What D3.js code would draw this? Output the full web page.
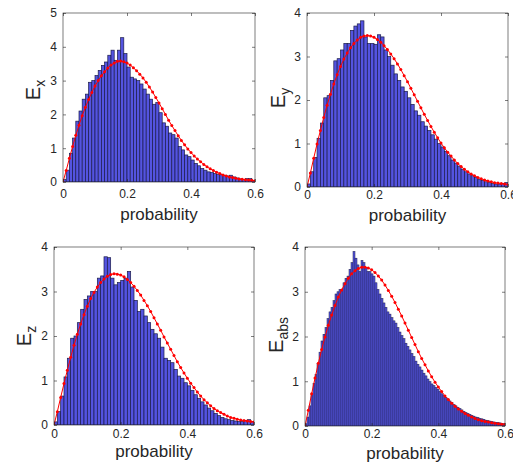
<!DOCTYPE html>
<html>
<head>
<meta charset="utf-8">
<script src="https://cdn.jsdelivr.net/npm/d3@7"></script>
<style>
  body { margin: 0; background: #fff; }
  text { font-family: "Liberation Sans", Arial, Helvetica, sans-serif; fill: #262626; }
</style>
</head>
<body>
<div id="div_graph"></div>
<script>
// histogram bar heights (density)
var exBins = [0.07,0.35,0.85,1.3,1.8,2.1,2.45,2.6,2.95,3.0,
  3.15,3.3,3.45,3.55,3.75,3.9,3.6,3.9,4.27,3.8,
  3.4,3.1,3.05,3.0,2.9,2.75,2.6,2.45,2.3,2.35,
  2.05,1.75,1.65,1.45,1.4,1.3,1.05,0.95,0.8,0.75,
  0.65,0.55,0.48,0.4,0.35,0.3,0.28,0.25,0.22,0.22,
  0.2,0.18,0.2,0.15,0.12,0.09,0.07,0.1,0.1,0.05];
var eyBins = [0.07,0.35,0.68,1.12,1.47,2.05,2.1,2.45,2.9,2.95,
  3.15,3.3,3.3,3.6,3.7,3.75,3.82,3.45,3.3,3.3,
  3.28,3.5,3.45,3.15,3.0,2.8,2.6,2.45,2.3,2.2,
  2.05,1.9,1.75,1.65,1.5,1.4,1.3,1.2,1.1,1.0,
  0.92,0.82,0.72,0.62,0.55,0.48,0.41,0.35,0.3,0.26,
  0.22,0.18,0.15,0.12,0.1,0.08,0.07,0.07,0.08,0.1];
var ezBins = [0.07,0.3,0.65,1.08,1.5,1.95,2.0,2.3,2.6,2.82,
  2.9,3.0,3.0,3.3,3.35,3.78,3.76,3.3,3.15,3.2,
  3.25,3.3,3.45,3.1,2.8,2.55,2.6,2.45,2.3,2.15,
  2.05,1.95,1.75,1.5,1.45,1.4,1.25,1.1,1.05,0.95,
  0.88,0.78,0.68,0.6,0.52,0.45,0.38,0.32,0.26,0.21,
  0.17,0.14,0.12,0.1,0.09,0.08,0.08,0.1,0.12,0.08];
var eabsBins = [0.05,0.2,0.45,0.7,0.95,1.15,1.4,1.65,1.9,2.05,
  2.2,2.4,2.55,2.65,2.8,2.95,3.0,3.05,3.05,3.2,
  3.3,3.35,3.5,3.65,3.9,3.75,3.6,3.45,3.7,3.65,
  3.55,3.45,3.45,3.4,3.35,3.2,3.05,2.95,2.85,2.75,
  2.65,2.55,2.5,2.42,2.35,2.3,2.2,2.1,2.02,1.95,
  1.85,1.78,1.7,1.62,1.55,1.45,1.38,1.32,1.25,1.18,
  1.12,1.05,0.99,0.94,0.9,0.86,0.82,0.77,0.72,0.68,
  0.64,0.6,0.56,0.52,0.48,0.45,0.42,0.39,0.36,0.33,
  0.3,0.28,0.26,0.24,0.22,0.2,0.19,0.17,0.16,0.15,
  0.13,0.12,0.11,0.1,0.09,0.08,0.08,0.07,0.06,0.05];

// fitted curves, sampled every 0.01 from 0 to 0.6
var exFit = [0,0.34,0.7,1.05,1.38,1.68,1.96,2.21,2.44,2.65,2.84,3.0,3.14,3.26,3.37,3.46,3.52,3.57,3.58,3.56,
  3.52,3.46,3.38,3.29,3.19,3.08,2.95,2.81,2.66,2.5,2.34,2.17,2.0,1.83,1.67,1.52,1.37,1.23,1.1,0.98,
  0.87,0.77,0.68,0.6,0.52,0.45,0.39,0.34,0.29,0.25,0.21,0.18,0.15,0.13,0.11,0.09,0.08,0.07,0.06,0.05,0.04];
var eyFit = [0,0.32,0.66,0.99,1.3,1.6,1.88,2.13,2.37,2.58,2.77,2.94,3.08,3.2,3.3,3.38,3.44,3.47,3.48,3.47,
  3.44,3.39,3.33,3.25,3.16,3.06,2.95,2.83,2.7,2.56,2.42,2.27,2.12,1.97,1.82,1.67,1.53,1.39,1.26,1.13,
  1.01,0.9,0.8,0.71,0.62,0.54,0.47,0.41,0.35,0.3,0.26,0.22,0.19,0.16,0.14,0.12,0.1,0.09,0.08,0.07,0.06];
var ezFit = [0,0.3,0.62,0.93,1.23,1.52,1.79,2.04,2.27,2.48,2.67,2.84,2.98,3.1,3.2,3.28,3.34,3.38,3.4,3.39,
  3.37,3.33,3.27,3.2,3.12,3.02,2.92,2.8,2.68,2.55,2.41,2.27,2.13,1.98,1.84,1.7,1.56,1.42,1.29,1.17,
  1.05,0.94,0.84,0.74,0.65,0.57,0.5,0.43,0.37,0.32,0.28,0.24,0.2,0.17,0.15,0.13,0.11,0.1,0.09,0.08,0.07];
var eabsFit = [0,0.35,0.72,1.07,1.4,1.71,1.99,2.25,2.48,2.69,2.88,3.04,3.18,3.3,3.4,3.47,3.52,3.55,3.55,3.53,
  3.49,3.43,3.35,3.26,3.15,3.03,2.9,2.76,2.61,2.46,2.3,2.14,1.98,1.82,1.66,1.51,1.37,1.23,1.1,0.98,
  0.87,0.77,0.67,0.59,0.51,0.44,0.38,0.33,0.28,0.24,0.2,0.17,0.14,0.12,0.1,0.09,0.07,0.06,0.05,0.04,0.04];

var xTicks = [0, 0.2, 0.4, 0.6];
var yTicks5 = [0, 1, 2, 3, 4, 5];
var yTicks4 = [0, 1, 2, 3, 4];
var fitStep = 0.01;

// one entry per subplot
var panels = [
  {bins: exBins, bw: 0.01, fit: exFit, ymax: 5, yticks: yTicks5, sub: 'x',
   left: 63, right: 255, top: 13, bottom: 182, labX: 40, labY: 90, tickY: 198, xlabY: 220},
  {bins: eyBins, bw: 0.01, fit: eyFit, ymax: 4, yticks: yTicks4, sub: 'y',
   left: 307, right: 508, top: 13, bottom: 187, labX: 285, labY: 98, tickY: 199, xlabY: 221},
  {bins: ezBins, bw: 0.01, fit: ezFit, ymax: 4, yticks: yTicks4, sub: 'z',
   left: 54, right: 254, top: 247, bottom: 425, labX: 31, labY: 336, tickY: 438, xlabY: 457},
  {bins: eabsBins, bw: 0.006, fit: eabsFit, ymax: 4, yticks: yTicks4, sub: 'abs',
   left: 305, right: 505, top: 247, bottom: 426, labX: 283, labY: 335, tickY: 438, xlabY: 459}
];

var svg = d3.select('#div_graph')
  .append('svg')
    .attr('width', 513)
    .attr('height', 470);

svg.append('rect')
  .attr('width', 513)
  .attr('height', 470)
  .attr('fill', '#fff');

var defs = svg.append('defs');

panels.forEach(function(p, k) {
  var w = p.right - p.left,
      h = p.bottom - p.top;

  var x = d3.scaleLinear().domain([0, 0.6]).range([0, w]);
  var y = d3.scaleLinear().domain([0, p.ymax]).range([h, 0]);

  defs.append('clipPath')
    .attr('id', 'clip-' + k)
    .append('rect')
      .attr('width', w)
      .attr('height', h);

  var g = svg.append('g')
    .attr('transform', 'translate(' + p.left + ',' + p.top + ')');

  var plot = g.append('g')
    .attr('clip-path', 'url(#clip-' + k + ')');

  // histogram
  plot.selectAll('.bar')
    .data(p.bins).enter()
    .append('rect')
      .attr('class', 'bar')
      .attr('x', function(d, i) { return x(i * p.bw); })
      .attr('width', x(p.bw))
      .attr('y', function(d) { return y(d); })
      .attr('height', function(d) { return h - y(d); })
      .attr('fill', '#5454e0')
      .attr('stroke', '#1c1c4a')
      .attr('stroke-width', p.bw < 0.01 ? 0.5 : 0.7);

  // fitted curve with markers
  var line = d3.line()
    .x(function(d, i) { return x(i * fitStep); })
    .y(function(d) { return y(d); });

  plot.append('path')
    .datum(p.fit)
    .attr('d', line)
    .attr('fill', 'none')
    .attr('stroke', '#ff0000')
    .attr('stroke-width', 1);

  plot.selectAll('.dot')
    .data(p.fit).enter()
    .append('circle')
      .attr('class', 'dot')
      .attr('cx', function(d, i) { return x(i * fitStep); })
      .attr('cy', function(d) { return y(d); })
      .attr('r', 1.5)
      .attr('fill', '#ff0000');

  // axes, ticks pointing inwards like matlab
  var ax = [
    {a: d3.axisBottom(x).tickValues(xTicks).tickFormat(function(d) { return d; }), t: 'translate(0,' + h + ')'},
    {a: d3.axisTop(x).tickValues(xTicks).tickFormat(''), t: 'translate(0,0)'},
    {a: d3.axisLeft(y).tickValues(p.yticks).tickFormat(d3.format('d')), t: 'translate(0,0)'},
    {a: d3.axisRight(y).tickValues(p.yticks).tickFormat(''), t: 'translate(' + w + ',0)'}
  ];
  ax.forEach(function(o) {
    var s = g.append('g')
      .attr('transform', o.t)
      .call(o.a.tickSizeInner(-3).tickSizeOuter(0).tickPadding(6));
    s.select('.domain').remove();
    s.selectAll('line').attr('stroke', '#262626').attr('stroke-width', 0.6);
    s.selectAll('text')
      .attr('font-size', 12)
      .style('font-family', '"Liberation Sans", Arial, sans-serif')
      .attr('fill', '#262626');
  });

  // move x tick labels to measured baseline
  g.selectAll('text')
    .filter(function() { return this.parentNode.parentNode.getAttribute('transform') === 'translate(0,' + h + ')'; })
    .attr('dy', null)
    .attr('y', p.tickY - p.bottom);

  g.append('rect')
    .attr('width', w)
    .attr('height', h)
    .attr('fill', 'none')
    .attr('stroke', '#262626')
    .attr('stroke-width', 0.6);

  // labels
  svg.append('text')
    .attr('x', (p.left + p.right) / 2)
    .attr('y', p.xlabY)
    .attr('text-anchor', 'middle')
    .attr('font-size', 17)
    .text('probability');

  var yl = svg.append('text')
    .attr('transform', 'translate(' + p.labX + ',' + p.labY + ') rotate(-90)')
    .attr('text-anchor', 'middle')
    .attr('font-size', 20);
  yl.append('tspan').text('E');
  yl.append('tspan')
    .attr('font-size', 14)
    .attr('dy', 5)
    .text(p.sub);
});
</script>
</body>
</html>
